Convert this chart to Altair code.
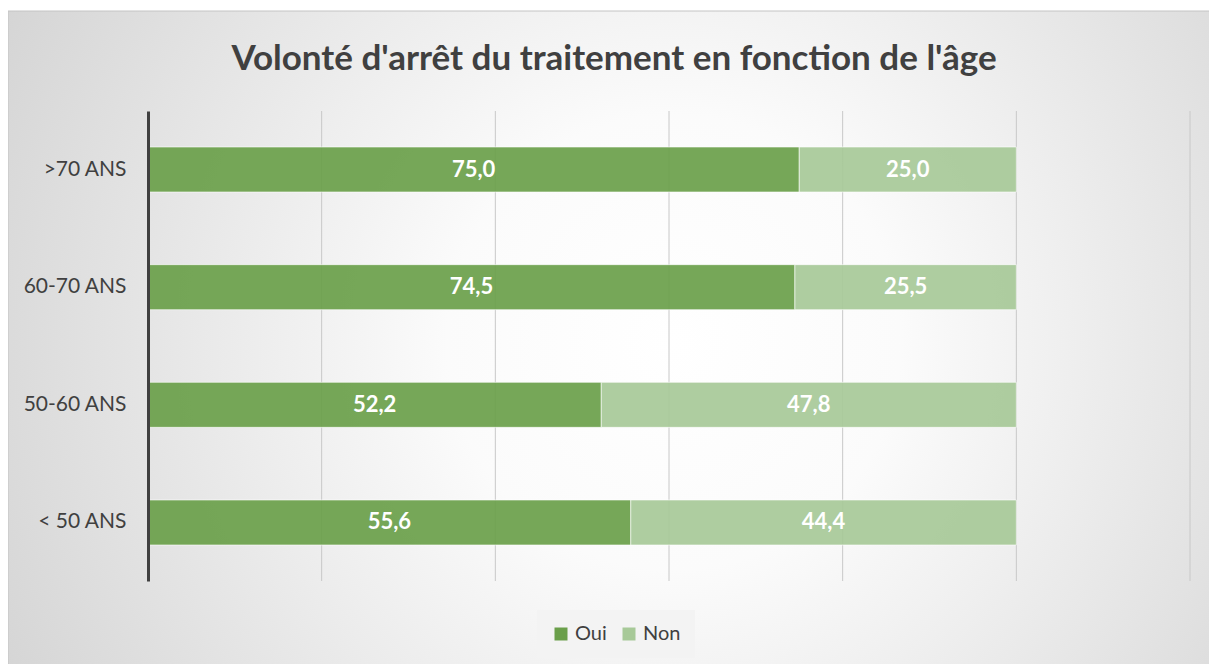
import altair as alt
import pandas as pd

ages = [">70 ANS", "60-70 ANS", "50-60 ANS", "< 50 ANS"]
oui = [75.0, 74.5, 52.2, 55.6]
non = [25.0, 25.5, 47.8, 44.4]
series = ["Oui", "Non"]
colors = ["#6a9f4a", "#a7c998"]
grid_values = [20, 40, 60, 80, 100, 120]

rows = []
for i, a in enumerate(ages):
    rows.append({"age": a, "serie": "Oui", "ord": 0, "value": oui[i]})
    rows.append({"age": a, "serie": "Non", "ord": 1, "value": non[i]})
df = pd.DataFrame(rows)

W, H = 1042, 470
PL, PT, PR, PB = 140, 103, 19, 83
FONT = "Lato"
TXT = "#404040"

xscale = alt.Scale(domain=[0, 120], nice=False, zero=True)
yscale = alt.Scale(domain=ages, paddingInner=0.6175, paddingOuter=0.306)

bg = alt.Chart(pd.DataFrame({"a": [0]})).mark_rect(
    fill=alt.Gradient(
        gradient="radial",
        stops=[
            alt.GradientStop(offset=0, color="#ffffff"),
            alt.GradientStop(offset=0.25, color="#fbfbfb"),
            alt.GradientStop(offset=1, color="#c9c9c9"),
        ],
        x1=0.55, y1=0.5, r1=0, x2=0.55, y2=0.5, r2=0.75,
    ),
    stroke="#c4c4c4",
    strokeWidth=1,
).encode(
    x=alt.value(-PL), x2=alt.value(W + PR + 10), y=alt.value(-100), y2=alt.value(H + PB + 10)
)

rules = alt.Chart(pd.DataFrame({"g": grid_values})).mark_rule(
    color="#c8c8c8", strokeWidth=1
).encode(x=alt.X("g:Q", scale=xscale, axis=None))

base = alt.Chart(df).transform_stack(
    stack="value", groupby=["age"], as_=["x0", "x1"], sort=[alt.SortField("ord")]
).transform_calculate(
    mid="(datum.x0 + datum.x1) / 2",
    label="replace(format(datum.value, '.1f'), '.', ',')",
)

bars = base.mark_bar(
    fillOpacity=0.92, stroke="#ffffff", strokeWidth=1, strokeOpacity=0.6
).encode(
    x=alt.X("x0:Q", scale=xscale, axis=None),
    x2="x1:Q",
    y=alt.Y(
        "age:N", scale=yscale, sort=ages,
        axis=alt.Axis(
            title=None, domain=True, domainColor=TXT, domainWidth=3, ticks=False,
            labelFont=FONT, labelFontSize=21, labelColor=TXT, labelPadding=22, zindex=1,
        ),
    ),
    color=alt.Color(
        "serie:N",
        scale=alt.Scale(domain=series, range=colors),
        legend=alt.Legend(
            title=None, orient="none", direction="horizontal",
            legendX=389, legendY=499, padding=14, fillColor="#f3f3f3",
            symbolType="square", symbolSize=169, symbolStrokeWidth=0,
            labelFont=FONT, labelFontSize=20, labelColor=TXT, columnPadding=12,
        ),
    ),
)

text = base.mark_text(
    font=FONT, fontSize=22, fontWeight="bold", color="white"
).encode(
    x=alt.X("mid:Q", scale=xscale, axis=None),
    y=alt.Y("age:N", scale=yscale, sort=ages),
    text="label:N",
)

chart = alt.layer(bg, rules, bars, text).properties(
    width=W,
    height=H,
    autosize=alt.AutoSizeParams(type="none"),
    padding={"left": PL, "top": PT, "right": PR, "bottom": PB},
    background="white",
    title=alt.TitleParams(
        text="Volonté d'arrêt du traitement en fonction de l'âge",
        font=FONT, fontSize=35, fontWeight="bold", color=TXT,
        anchor="middle", dx=-55, dy=102, offset=36,
    ),
).configure_view(stroke=None)

chart.save("out.html", embed_options={"renderer": "svg", "actions": False})
